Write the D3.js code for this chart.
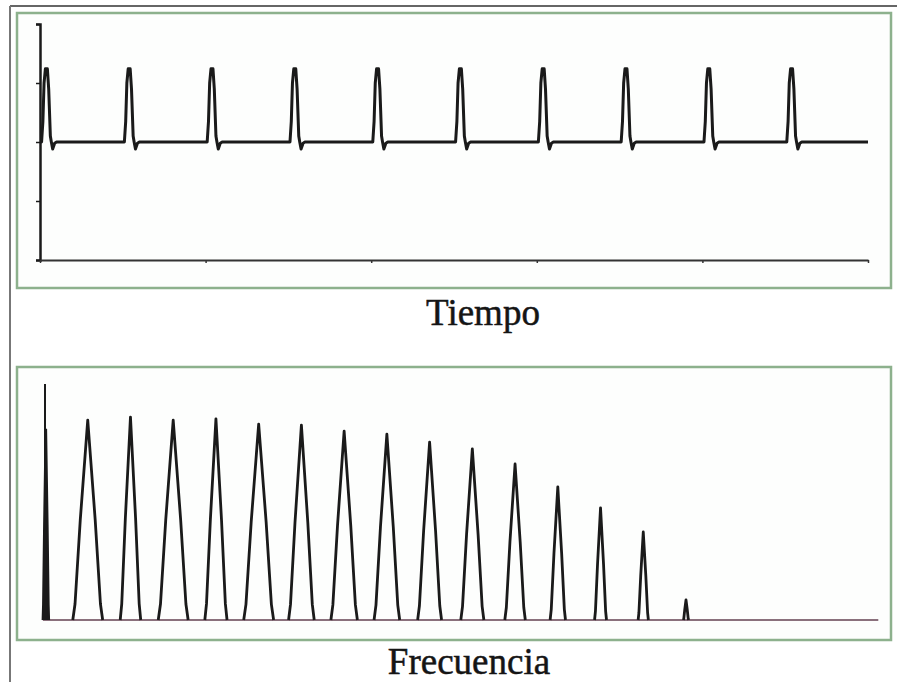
<!DOCTYPE html>
<html>
<head>
<meta charset="utf-8">
<script src="https://cdn.jsdelivr.net/npm/d3@7"></script>
<style>
  html, body { margin: 0; padding: 0; background: #fff; }
  svg { display: block; }
</style>
</head>
<body>
<div id="chart"></div>
<script>
// time signal: pulse train
const pulseTimes = [0.085, 1.085, 2.085, 3.085, 4.085, 5.085, 6.085, 7.085, 8.085, 9.085];
// shape of one pulse (offset in time units, amplitude)
const pulseOffsets = [-0.066, -0.05, -0.036, -0.02, 0.004, 0.02, 0.04, 0.052, 0.068, 0.092, 0.115];
const pulseValues  = [0, 0.35, 1.0, 1.24, 1.24, 0.9, 0.1, 0, -0.12, -0.02, 0];
const timeTicks = [0, 2, 4, 6, 8, 10];
const ampTicks = [-2, -1, 0, 1, 2];

// spectrum: harmonics
const harmonics = [1, 2, 3, 4, 5, 6, 7, 8, 9, 10, 11, 12, 13, 14, 15];
const harmonicHeights = [0.847, 0.86, 0.847, 0.852, 0.83, 0.826, 0.80, 0.788, 0.754, 0.725, 0.661, 0.564, 0.475, 0.373, 0.085];
const harmonicHalfWidths = [0.35, 0.24, 0.35, 0.26, 0.35, 0.30, 0.31, 0.30, 0.28, 0.27, 0.24, 0.18, 0.14, 0.12, 0.06];
const dcHeight = 0.81, dcSpike = 1.0;
const peakShapeU = [-1, -0.85, -0.5, 0, 0.5, 0.85, 1];
const peakShapeV = [0, 0.08, 0.5, 1, 0.5, 0.08, 0];

const W = 897, H = 682;
const svg = d3.select("#chart").append("svg").attr("width", W).attr("height", H);

// page frame
svg.append("line").attr("x1", 10).attr("x2", W).attr("y1", 6).attr("y2", 6)
  .attr("stroke", "#333").attr("stroke-width", 1.5);
svg.append("line").attr("x1", 10).attr("x2", 10).attr("y1", 6).attr("y2", H)
  .attr("stroke", "#777").attr("stroke-width", 2);

// green boxes
[[13, 288], [367, 640]].forEach(([y0, y1]) => {
  svg.append("rect").attr("x", 17).attr("y", y0).attr("width", 874).attr("height", y1 - y0)
    .attr("fill", "#fdfefd").attr("stroke", "#8db18d").attr("stroke-width", 2.5);
});

const ink = "#1a1a1a";

// ---- top: time domain ----
const xT = d3.scaleLinear().domain([0, 10]).range([40, 868]);
const yT = d3.scaleLinear().domain([-2, 2]).range([260, 24]);

const yAxis = d3.axisLeft(yT).tickValues(ampTicks).tickSize(4).tickFormat("");
const gy = svg.append("g").attr("transform", `translate(${xT(0)},0)`).call(yAxis);
gy.select(".domain").attr("stroke", ink).attr("stroke-width", 2.5);
gy.selectAll(".tick line").attr("stroke", ink).attr("stroke-width", 1.5);

const xAxis = d3.axisBottom(xT).tickValues(timeTicks).tickSize(3).tickSizeOuter(0).tickFormat("");
const gx = svg.append("g").attr("transform", `translate(0,${yT(-2)})`).call(xAxis);
gx.select(".domain").attr("stroke", "#333").attr("stroke-width", 2.2);
gx.selectAll(".tick line").attr("stroke", "#333").attr("stroke-width", 1.5);

const timeSeries = [[0, 0]];
pulseTimes.forEach(t0 => {
  pulseOffsets.forEach((o, i) => timeSeries.push([t0 + o, pulseValues[i]]));
});
timeSeries.push([10, 0]);

svg.append("path").datum(timeSeries)
  .attr("fill", "none").attr("stroke", ink).attr("stroke-width", 3)
  .attr("stroke-linejoin", "round")
  .attr("d", d3.line().x(d => xT(d[0])).y(d => yT(d[1])));

const serif = "'Liberation Serif', 'Times New Roman', serif";
svg.append("text").attr("x", 483).attr("y", 325).attr("text-anchor", "middle")
  .attr("font-family", serif).attr("font-size", 37)
  .attr("fill", "#151515").attr("stroke", "#151515").attr("stroke-width", 0.5)
  .text("Tiempo");

// ---- bottom: frequency domain ----
const xF = d3.scaleLinear().domain([0, 15]).range([45, 686]);
const yF = d3.scaleLinear().domain([0, 1]).range([620, 384]);

svg.append("line").attr("x1", xF(-0.05)).attr("x2", xF(19.5)).attr("y1", yF(0)).attr("y2", yF(0))
  .attr("stroke", "#8a707c").attr("stroke-width", 2);

const peakLine = d3.line().x(d => xF(d[0])).y(d => yF(d[1]));

// DC component
svg.append("path")
  .datum(peakShapeU.map((u, i) => [0.02 + u * 0.07, peakShapeV[i] * dcHeight]))
  .attr("fill", ink).attr("stroke", ink).attr("stroke-width", 2.5)
  .attr("d", peakLine);
svg.append("line").attr("x1", xF(0)).attr("x2", xF(0)).attr("y1", yF(0)).attr("y2", yF(dcSpike))
  .attr("stroke", ink).attr("stroke-width", 2);

svg.selectAll(".peak").data(harmonics).enter().append("path")
  .attr("class", "peak")
  .attr("fill", "none").attr("stroke", ink).attr("stroke-width", 2.8)
  .attr("stroke-linejoin", "round")
  .attr("d", (k, j) => peakLine(peakShapeU.map((u, i) =>
    [k + u * harmonicHalfWidths[j], peakShapeV[i] * harmonicHeights[j]])));

svg.append("text").attr("x", 469).attr("y", 674).attr("text-anchor", "middle")
  .attr("font-family", serif).attr("font-size", 37)
  .attr("fill", "#151515").attr("stroke", "#151515").attr("stroke-width", 0.5)
  .text("Frecuencia");
</script>
</body>
</html>
